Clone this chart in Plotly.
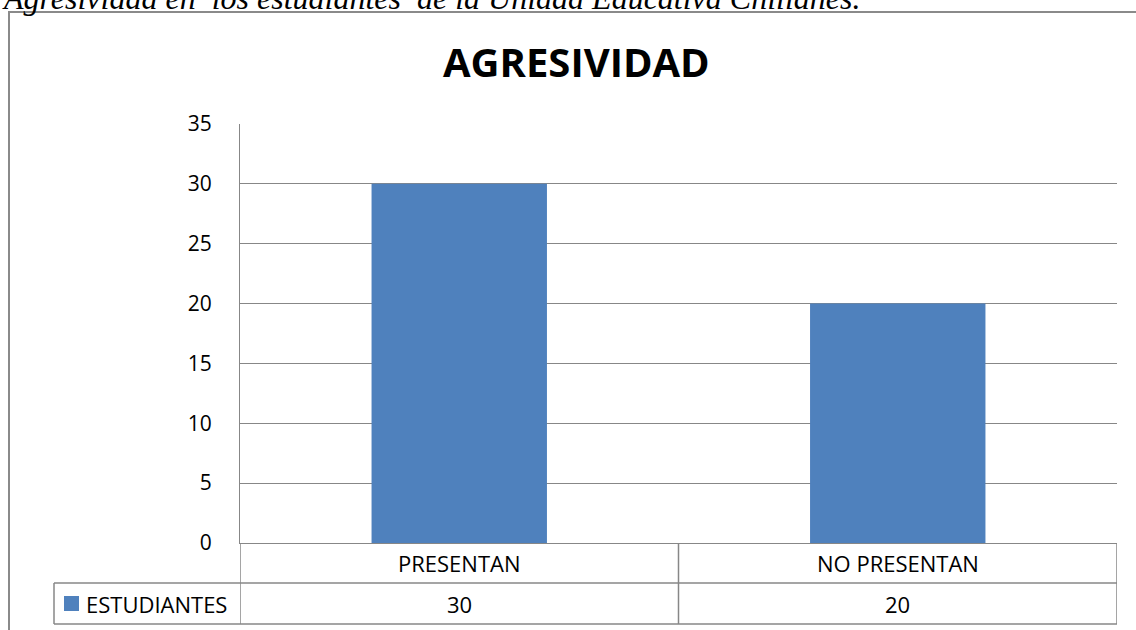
import plotly.graph_objects as go

# ---- data ----
categories = ["PRESENTAN", "NO PRESENTAN"]
estudiantes = [30, 20]
series_name = "ESTUDIANTES"
y_ticks = [0, 5, 10, 15, 20, 25, 30, 35]

chart_title = "AGRESIVIDAD"
caption = "Agresividad en  los estudiantes  de la Unidad Educativa Chillanes."

W, H = 1136, 630
BLUE = "#4F81BD"
GRID = "#878787"
FONT = "Open Sans"


def px_x(x):
    return x / W


def px_y(y):
    return (H - y) / H


# pixel frame of the plot area
left, right, top, bottom = 240, 1117, 124, 543
row1_bot, row2_bot, table_left = 583, 624, 54

fig = go.Figure()
fig.add_trace(go.Bar(
    x=categories, y=estudiantes, name=series_name,
    marker=dict(color=BLUE, line=dict(width=0)),
    width=0.4, showlegend=False, hoverinfo="x+y",
))

fig.update_layout(
    width=W, height=H,
    margin=dict(l=0, r=0, t=0, b=0, pad=0, autoexpand=False),
    paper_bgcolor="white", plot_bgcolor="white",
    showlegend=False,
    font=dict(family=FONT, color="black", size=22),
    xaxis=dict(domain=[px_x(left), px_x(right)], range=[-0.5, 1.5],
               showticklabels=False, showgrid=False, zeroline=False,
               showline=True, linecolor=GRID, linewidth=1, ticks="",
               automargin=False),
    yaxis=dict(domain=[px_y(bottom), px_y(top)], range=[0, 35],
               tickvals=y_ticks, showgrid=True, gridcolor=GRID, gridwidth=1,
               zeroline=False, showline=True, linecolor=GRID, linewidth=1,
               ticks="", ticklabelstandoff=23, automargin=False,
               tickfont=dict(family=FONT, size=21)),
)

shapes = []
# outer chart border
shapes.append(dict(type="rect", xref="paper", yref="paper",
                   x0=px_x(9), x1=1.05, y0=px_y(12), y1=-0.05,
                   line=dict(color="#8a8a8a", width=2), layer="below"))
# data table horizontal lines
for yy in (row1_bot, row2_bot):
    shapes.append(dict(type="line", xref="paper", yref="paper",
                       x0=px_x(table_left), x1=px_x(right), y0=px_y(yy), y1=px_y(yy),
                       line=dict(color=GRID, width=1.5)))
# vertical dividers at category boundaries
for xv in (-0.5, 0.5, 1.5):
    shapes.append(dict(type="line", xref="x", yref="paper",
                       x0=xv, x1=xv, y0=px_y(bottom), y1=px_y(row2_bot),
                       line=dict(color=GRID, width=1.5)))
shapes.append(dict(type="line", xref="paper", yref="paper",
                   x0=px_x(table_left), x1=px_x(table_left),
                   y0=px_y(row1_bot), y1=px_y(row2_bot),
                   line=dict(color=GRID, width=1.5)))
# legend key
shapes.append(dict(type="rect", xref="paper", yref="paper",
                   x0=px_x(64), x1=px_x(79), y0=px_y(611), y1=px_y(596),
                   fillcolor=BLUE, line=dict(width=0)))
fig.update_layout(shapes=shapes)

annotations = []
annotations.append(dict(text=f"<b>{chart_title}</b>", xref="paper", yref="paper",
                        x=px_x(576), y=px_y(62), showarrow=False,
                        xanchor="center", yanchor="middle",
                        font=dict(family=FONT, size=40, color="black")))
# caption of the figure, cut off at the top edge as in the source
annotations.append(dict(text=f"<i>{caption}</i>", xref="paper", yref="paper",
                        x=0, y=px_y(18), showarrow=False,
                        xanchor="left", yanchor="bottom",
                        font=dict(family="Liberation Serif", size=32, color="black")))
for cat, val in zip(categories, estudiantes):
    annotations.append(dict(text=cat, xref="x", yref="paper", x=cat,
                            y=(px_y(bottom) + px_y(row1_bot)) / 2, showarrow=False,
                            xanchor="center", yanchor="middle"))
    annotations.append(dict(text=str(val), xref="x", yref="paper", x=cat,
                            y=(px_y(row1_bot) + px_y(row2_bot)) / 2, showarrow=False,
                            xanchor="center", yanchor="middle"))
annotations.append(dict(text=series_name, xref="paper", yref="paper", x=px_x(84),
                        y=(px_y(row1_bot) + px_y(row2_bot)) / 2, showarrow=False,
                        xanchor="left", yanchor="middle"))
fig.update_layout(annotations=annotations)

# drop the page's default body margin so the chart sits at the window corner
fig.write_html("out.html", config={"displayModeBar": False},
               post_script="document.body.style.margin='0';")
